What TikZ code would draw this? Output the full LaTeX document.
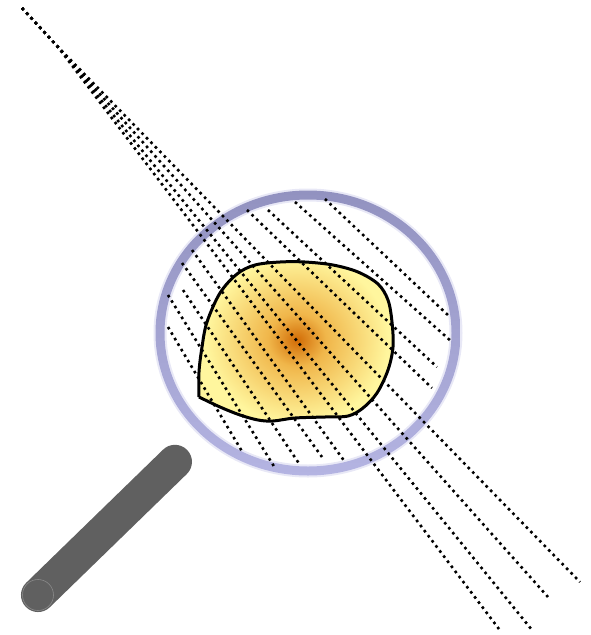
\documentclass[tikz,border=0pt]{standalone}

\definecolor{ringdark}{RGB}{146,146,192}
\definecolor{ringlight}{RGB}{180,180,226}
\definecolor{handledark}{RGB}{96,96,96}
\definecolor{handlemid}{RGB}{118,118,118}
\definecolor{glowcore}{RGB}{210,108,6}
\definecolor{glowmid}{RGB}{240,182,74}
\definecolor{glowpale}{RGB}{255,246,158}

\pgfdeclareradialshading{blobglow}{\pgfpoint{0bp}{0bp}}{%
  color(0bp)=(glowcore); color(6bp)=(glowmid); color(19bp)=(glowpale);
  color(25bp)=(glowpale); color(50bp)=(glowpale)}

\begin{document}
\begin{tikzpicture}[x=1pt,y=-1pt,
    dotline/.style={line width=2.6pt,dash pattern=on 2.6pt off 3.8pt},
    rimglow/.style={ringlight,opacity=.3,line width=13pt}]

	\useasboundingbox (0,0) rectangle (590,635);

	%Lens centre and radii
	\def\rx{148}
	\def\ry{138}
	\coordinate (O) at (308,333);

	%Outline of the blob under the glass
	\def\blob{plot[smooth,tension=.55] coordinates {(199,397) (199,372) (202,347)
		(207,322) (220,293) (237,274) (255,265) (280,262) (305,262) (333,265)
		(358,272) (378,284) (388,300) (392,322) (393,347) (388,370) (377,393)
		(363,408) (348,416) (325,417) (295,418) (273,421) (258,420) (240,415)
		(220,407) (199,397)}}

	%Handle
	\begin{scope}[shift={(38,595)},rotate=44.2]
		\shade[top color=handledark,middle color=handlemid,bottom color=handledark,
			rounded corners=16.9pt] (-17,-17) rectangle (208,17);
		\draw[handlemid!85!white,line width=.6pt] (0,0) circle (15.5);
	\end{scope}

	%Rim of the glass
	\draw[rimglow] (O) ellipse [x radius=\rx,y radius=\ry];
	\shade[even odd rule,top color=ringdark,bottom color=ringlight]
		(O) ellipse [x radius=\rx+4.5,y radius=\ry+4.5]
		(O) ellipse [x radius=\rx-4.5,y radius=\ry-4.5];

	%Blob with its glow
	\fill[glowpale] \blob;
	\begin{scope}
		\clip \blob;
		\shade[shading=blobglow,shift={(297,340)},rotate=-40]
			(0,0) ellipse [x radius=115,y radius=90];
	\end{scope}
	\draw[line width=3pt,line join=round] \blob;

	%Rays through the glass
	\coordinate (apex) at (22,8);
	\coordinate (knot) at (58,47);
	\foreach \e in {(580,582),(548,597),(532,630),(499,629)}
		\draw[dotline] (apex) -- (knot) -- \e;

	%Magnified rays seen in the glass
	\foreach \a/\b/\c/\d in {325/199/450/317, 295/202/452/342, 268/210/437/367,
		247/210/432/388, 192/250/345/462, 182/263/322/457, 183/290/300/465,
		168/295/275/468, 168/327/243/453}
		\draw[dotline] (\a,\b) -- (\c,\d);
\end{tikzpicture}
\end{document}
